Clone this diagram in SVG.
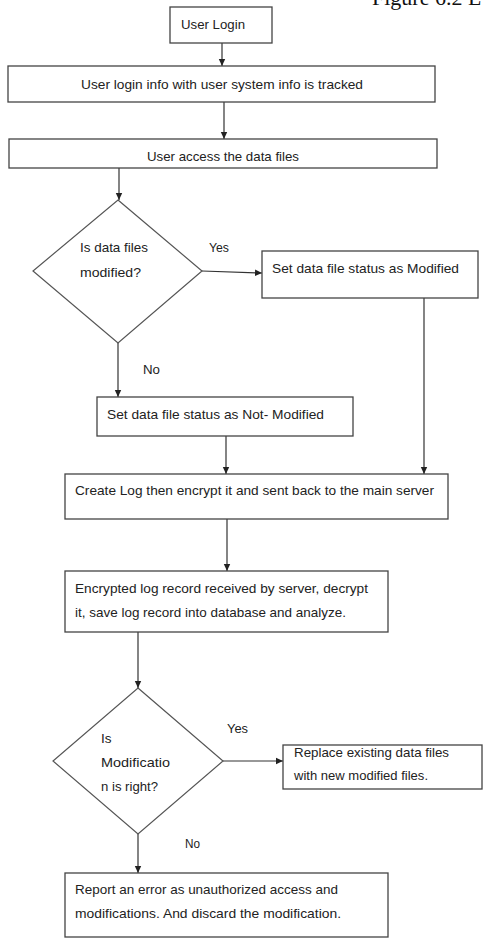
<svg xmlns="http://www.w3.org/2000/svg" width="483" height="938" viewBox="0 0 483 938">
<defs>
<marker id="ah" markerWidth="8" markerHeight="8" refX="7" refY="4" orient="auto" markerUnits="userSpaceOnUse">
<path d="M0,0.8 L7,4 L0,7.2 Z" fill="#222"/>
</marker>
<style>
.box{fill:#fff;stroke:#444;stroke-width:1.3}
.dia{fill:#fff;stroke:#555;stroke-width:1.2}
.t{font-family:"Liberation Sans",Arial,sans-serif;font-size:13.5px;fill:#222}
.c{stroke:#333;stroke-width:1.2;fill:none}
.a{marker-end:url(#ah)}
.fig{font-family:"Liberation Serif","Times New Roman",serif;font-size:22px;fill:#111}
</style>
</defs>
<rect width="483" height="938" fill="#fff"/>
<text class="fig" x="372" y="5">Figure 6.2 L</text>
<g id="connectors">
<line class="c a" x1="222" y1="43" x2="222" y2="66"/>
<line class="c a" x1="224" y1="102" x2="224" y2="139"/>
<line class="c a" x1="119" y1="168" x2="119" y2="200"/>
<line class="c a" x1="202" y1="271" x2="262" y2="273"/>
<line class="c a" x1="118" y1="343" x2="118" y2="397"/>
<line class="c a" x1="424" y1="298" x2="424" y2="474"/>
<line class="c a" x1="226" y1="436" x2="226" y2="474"/>
<line class="c a" x1="227" y1="519" x2="227" y2="571"/>
<line class="c a" x1="138" y1="632" x2="138" y2="688"/>
<line class="c a" x1="223" y1="761" x2="283" y2="761"/>
<line class="c a" x1="138" y1="834" x2="138" y2="873"/>
<text class="t" x="209" y="252" textLength="20" lengthAdjust="spacingAndGlyphs">Yes</text>
<text class="t" x="143" y="374" textLength="17" lengthAdjust="spacingAndGlyphs">No</text>
<text class="t" x="227" y="733" textLength="21" lengthAdjust="spacingAndGlyphs">Yes</text>
<text class="t" x="185" y="848" textLength="15" lengthAdjust="spacingAndGlyphs">No</text>
</g>
<g id="n-login">
<rect class="box" x="170" y="7" width="102" height="36"/>
<text class="t" x="181" y="29" textLength="64" lengthAdjust="spacingAndGlyphs">User Login</text>
</g>
<g id="n-track">
<rect class="box" x="8" y="66" width="427" height="36"/>
<text class="t" x="81" y="89" textLength="282" lengthAdjust="spacingAndGlyphs">User login info with user system info is tracked</text>
</g>
<g id="n-access">
<rect class="box" x="9" y="139" width="428" height="29"/>
<text class="t" x="147" y="161" textLength="152" lengthAdjust="spacingAndGlyphs">User access the data files</text>
</g>
<g id="n-dec1">
<polygon class="dia" points="118,200 202,271 118,343 33,271"/>
<text class="t" x="80" y="252" textLength="68" lengthAdjust="spacingAndGlyphs">Is data files</text>
<text class="t" x="80" y="277" textLength="61" lengthAdjust="spacingAndGlyphs">modified?</text>
</g>
<g id="n-modified">
<rect class="box" x="262" y="251" width="216" height="47"/>
<text class="t" x="272" y="273" textLength="187" lengthAdjust="spacingAndGlyphs">Set data file status as Modified</text>
</g>
<g id="n-notmodified">
<rect class="box" x="97" y="397" width="256" height="39"/>
<text class="t" x="107" y="419" textLength="217" lengthAdjust="spacingAndGlyphs">Set data file status as Not- Modified</text>
</g>
<g id="n-createlog">
<rect class="box" x="65" y="474" width="383" height="45"/>
<text class="t" x="75" y="495" textLength="359" lengthAdjust="spacingAndGlyphs">Create Log then encrypt it and sent back to the main server</text>
</g>
<g id="n-received">
<rect class="box" x="65" y="571" width="323" height="61"/>
<text class="t" x="75" y="593" textLength="293" lengthAdjust="spacingAndGlyphs">Encrypted log record received by server, decrypt</text>
<text class="t" x="75" y="617" textLength="271" lengthAdjust="spacingAndGlyphs">it, save log record into database and analyze.</text>
</g>
<g id="n-dec2">
<polygon class="dia" points="138,688 223,761 138,834 53,761"/>
<text class="t" x="101" y="743">Is</text>
<text class="t" x="101" y="767" textLength="69" lengthAdjust="spacingAndGlyphs">Modificatio</text>
<text class="t" x="101" y="791" textLength="57" lengthAdjust="spacingAndGlyphs">n is right?</text>
</g>
<g id="n-replace">
<rect class="box" x="283" y="745" width="199" height="44"/>
<text class="t" x="294" y="757" textLength="155" lengthAdjust="spacingAndGlyphs">Replace existing data files</text>
<text class="t" x="294" y="780" textLength="134" lengthAdjust="spacingAndGlyphs">with new modified files.</text>
</g>
<g id="n-report">
<rect class="box" x="65" y="873" width="323" height="64"/>
<text class="t" x="75" y="894" textLength="263" lengthAdjust="spacingAndGlyphs">Report an error as unauthorized access and</text>
<text class="t" x="75" y="918" textLength="266" lengthAdjust="spacingAndGlyphs">modifications. And discard the modification.</text>
</g>
</svg>
